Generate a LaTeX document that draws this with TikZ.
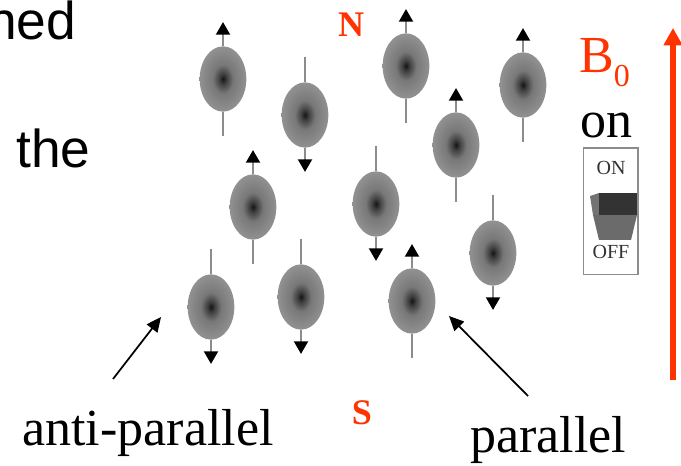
\documentclass[tikz,border=0pt]{standalone}
\usepackage{fontspec}
\setmainfont{Liberation Serif}
\newfontfamily\slidefont{Liberation Sans}
\usetikzlibrary{arrows.meta,shapes.geometric,positioning}
\definecolor{fieldred}{RGB}{255,51,0}
\pgfdeclareradialshading{spinshade}{\pgfpoint{0bp}{0bp}}{color(0bp)=(black!92); color(4bp)=(black!75); color(11bp)=(black!53); color(25bp)=(black!43); color(50bp)=(black!43)}
\tikzset{
	spin/.style={ellipse,minimum width=35pt,minimum height=49pt,inner sep=0pt,shading=spinshade},
	stick/.style={draw=black!45,line width=1.6pt},
	tip/.style={-{Triangle[color=black,width=10.5pt,length=9.5pt]}},
	pointer/.style={-{Triangle[width=10pt,length=11pt]},line width=1.3pt},
	pole/.style={text=fieldred,font=\fontsize{27}{27}\selectfont\bfseries,inner sep=0pt},
	big/.style={font=\fontsize{39}{42}\selectfont,inner sep=0pt},
	slide/.style={font=\slidefont\fontsize{40}{42}\selectfont,inner sep=0pt,anchor=base west}
}

\begin{document}
\begin{tikzpicture}[x=0.75pt,y=-0.75pt]
				\useasboundingbox (0,0) rectangle (681,466);
				\node[slide] (txtA) at (-13,40) {ned};
				\node[slide] (txtB) at (16,168) {the};
				% spins pointing up
				\foreach \n/\x/\y in {1/223/79,3/406/66,4/456/145,5/523/85,6/253/207,11/412/301} {
				    \node[spin] (s\n) at (\x,\y) {};
				    \draw[stick,tip] (s\n.north) -- ++(0,-24);
				    \draw[stick] (s\n.south) -- ++(0,24);
				 }
				% spins pointing down
				\foreach \n/\x/\y in {2/305/115,7/376/204,8/493/253,9/211/307,10/301/297} {
				    \node[spin] (s\n) at (\x,\y) {};
				    \draw[stick] (s\n.north) -- ++(0,-25);
				    \draw[stick,tip] (s\n.south) -- ++(0,24);
				 }
				 \node[pole] (north) at (351,25) {N};
				 \node[pole] (south) at (362,413) {S};
				 \node[big,anchor=base] (anti) at (148,445) {anti-parallel};
				 \node[big,anchor=base] (par) at (548,452) {parallel};
				 \coordinate (antitail) at (113,379);
				 \coordinate (antitip) at (161,317);
				 \coordinate (partail) at (528,396);
				 \coordinate (partip) at (449,316);
				 \draw[pointer] (antitail) -- (antitip);
				 \draw[pointer] (partail) -- (partip);
				% field and switch
				 \coordinate (fieldbot) at (673,380);
				 \coordinate (fieldtop) at (673,28);
				 \draw[fieldred,line width=4.5pt,-{Triangle[width=13.5pt,length=13pt]}] (fieldbot) -- (fieldtop);
				 \node[big,text=fieldred,anchor=base west] (bzero) at (579,73) {B\raisebox{-10.5pt}{\fontsize{24}{24}\selectfont 0}};
				 \node[big,anchor=base west] (on) at (580,138) {on};
				 \node[draw=black!45,line width=1pt,minimum width=41pt,minimum height=95pt,inner sep=0pt] (switch) at (610.5,211.5) {};
				 \node[font=\fontsize{15}{15}\selectfont,text=black!80,inner sep=0pt] (onlbl) at (611,168) {ON};
				 \node[font=\fontsize{15}{15}\selectfont,text=black!80,inner sep=0pt] (offlbl) at (611,252) {OFF};
				 \fill[black!58] (593,215) -- (637,215) -- (631,240) -- (599,240) -- cycle;
				 \fill[black!55] (590,196) -- (599,193) -- (599,215) -- (593,215) -- cycle;
				 \fill[black!80] (599,193) -- (637,193) -- (637,215) -- (599,215) -- cycle;
			\end{tikzpicture}
\end{document}
